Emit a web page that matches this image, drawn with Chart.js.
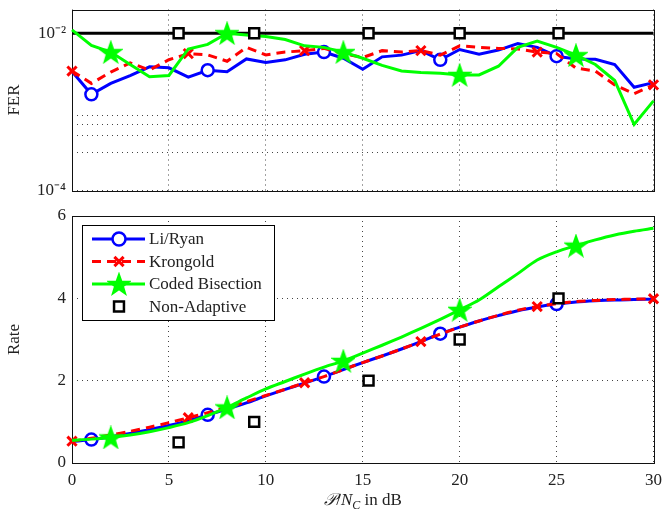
<!DOCTYPE html>
<html lang="en">
<head>
<meta charset="UTF-8">
<title>FER and Rate vs P/Nc</title>
<script src="https://cdn.jsdelivr.net/npm/chart.js"></script>
<style>
  body { margin: 0; background: #fff; }
  #wrap { position: relative; width: 663px; height: 512px; font-family: "Liberation Serif", serif; color: #222; }
  #ferChart { position: absolute; left: 0; top: 0; }
  #rateChart { position: absolute; left: 0; top: 205px; }
  #xTitle { position: absolute; left: 72px; width: 582px; top: 490px; text-align: center; font-size: 17px; line-height: 20px; }
  #xTitle sub { font-size: 12px; line-height: 0; }
</style>
</head>
<body>
<div id="wrap">
  <canvas id="ferChart" width="663" height="200"></canvas>
  <canvas id="rateChart" width="663" height="307"></canvas>
  <div id="xTitle"><i>𝒫</i>/<i>N</i><sub><i>C</i></sub> in dB</div>
</div>

<script>
// x values (P/Nc in dB)
const snr = [0,1,2,3,4,5,6,7,8,9,10,11,12,13,14,15,16,17,18,19,20,21,22,23,24,25,26,27,28,29,30];

// frame error rate
const ferLiRyan = [3.26e-3,1.67e-3,2.30e-3,2.89e-3,3.73e-3,3.63e-3,2.76e-3,3.38e-3,3.23e-3,4.71e-3,4.25e-3,
  4.58e-3,5.4e-3,5.75e-3,4.8e-3,3.47e-3,5.0e-3,5.26e-3,6.0e-3,4.58e-3,6.2e-3,
  5.4e-3,6.1e-3,7.4e-3,6.6e-3,5.1e-3,4.7e-3,4.67e-3,4.0e-3,2.05e-3,2.35e-3];
const ferKrongold = [3.3e-3,2.3e-3,3.2e-3,4.2e-3,3.4e-3,4.6e-3,5.5e-3,5.3e-3,4.4e-3,6.6e-3,5.3e-3,
  5.75e-3,6.0e-3,6.4e-3,5.5e-3,4.9e-3,6.0e-3,5.75e-3,6.0e-3,5.26e-3,6.9e-3,
  6.6e-3,6.4e-3,6.3e-3,5.75e-3,5.5e-3,3.6e-3,3.3e-3,2.2e-3,1.7e-3,2.2e-3];
const ferBisection = [1.1e-2,7.0e-3,5.75e-3,4.0e-3,2.8e-3,2.9e-3,6.3e-3,7.2e-3,1.0e-2,9.5e-3,9.1e-3,
  8.3e-3,6.9e-3,6.6e-3,5.75e-3,4.8e-3,3.9e-3,3.3e-3,3.16e-3,3.1e-3,2.95e-3,
  2.95e-3,3.8e-3,6.6e-3,7.95e-3,6.6e-3,5.26e-3,4.0e-3,2.5e-3,6.9e-4,1.38e-3];
const targetFer = 0.01;

// rate
const rateLiRyan = [0.52,0.57,0.64,0.72,0.81,0.91,1.03,1.17,1.31,1.46,1.63,1.79,1.94,2.1,2.27,2.44,
  2.6,2.77,2.95,3.14,3.3,3.45,3.58,3.7,3.79,3.86,3.91,3.94,3.96,3.97,3.98];
const rateKrongold = [0.53,0.6,0.68,0.77,0.87,0.98,1.1,1.22,1.35,1.49,1.64,1.79,1.95,2.1,2.27,2.44,
  2.6,2.77,2.95,3.13,3.3,3.45,3.59,3.71,3.8,3.87,3.92,3.95,3.97,3.98,3.99];
const rateBisection = [0.55,0.58,0.62,0.68,0.76,0.86,0.98,1.15,1.35,1.58,1.8,1.98,2.16,2.33,2.48,2.67,
  2.86,3.06,3.27,3.49,3.72,3.96,4.28,4.6,4.93,5.13,5.28,5.42,5.54,5.63,5.7];

// non-adaptive points
const nonAdaptiveSnr = [5.5, 9.4, 15.3, 20, 25.1];
const nonAdaptiveFer = [0.01, 0.01, 0.01, 0.01, 0.01];
const nonAdaptiveRate = [0.5, 1, 2, 3, 4];

// where markers sit on each curve
const markLiRyan = [1, 7, 13, 19, 25];
const markKrongold = [0, 6, 12, 18, 24, 30];
const markBisection = [2, 8, 14, 20, 26];

const legendLabels = ['Li/Ryan', 'Krongold', 'Coded Bisection', 'Non-Adaptive'];
const xTicks = [0, 5, 10, 15, 20, 25, 30];
const rateTicks = [0, 2, 4, 6];
const ferLabelled = [1e-4, 1e-2];
const ferGrid = [1e-4,2e-4,3e-4,4e-4,5e-4,6e-4,7e-4,8e-4,9e-4,1e-3,1e-2];

const FONT = 'Liberation Serif';
const BLUE = '#0000ff', RED = '#ff0000', GREEN = '#00ff00', BLACK = '#000000';

function pentagram(color) {
  const c = document.createElement('canvas');
  c.width = c.height = 24;
  const g = c.getContext('2d');
  const R = 10.5, r = R * 0.4;
  g.beginPath();
  for (let i = 0; i < 10; i++) {
    const a = -Math.PI / 2 + i * Math.PI / 5;
    const rr = i % 2 ? r : R;
    g.lineTo(12 + rr * Math.cos(a), 13 + rr * Math.sin(a));
  }
  g.closePath();
  g.fillStyle = color;
  g.fill();
  g.strokeStyle = color;
  g.lineWidth = 2;
  g.lineJoin = 'miter';
  g.stroke();
  return c;
}
const starImg = pentagram(GREEN);

const toXY = (xs, ys) => xs.map((x, i) => ({ x: x, y: ys[i] }));
const markAt = (list, r) => ctx => (ctx.raw && list.includes(ctx.raw.x)) ? r : 0;

function series(kind, values, extra) {
  const base = {
    liryan: { label: legendLabels[0], borderColor: BLUE, pointStyle: 'circle', pointRadius: markAt(markLiRyan, 6),
              pointBorderColor: BLUE, pointBackgroundColor: '#fff', pointBorderWidth: 2.5, order: 4 },
    krongold: { label: legendLabels[1], borderColor: RED, borderDash: [9, 6], pointStyle: 'crossRot',
              pointRadius: markAt(markKrongold, 6.5), pointBorderColor: RED, pointBorderWidth: 3, order: 3 },
    bisection: { label: legendLabels[2], borderColor: GREEN, pointStyle: starImg, pointRadius: markAt(markBisection, 10),
              pointBorderColor: GREEN, order: 2 }
  }[kind];
  return Object.assign({ data: toXY(snr, values), borderWidth: 3, fill: false, clip: false }, base, extra);
}

function nonAdaptive(values) {
  return {
    label: legendLabels[3], data: toXY(nonAdaptiveSnr, values), showLine: false,
    pointStyle: 'rect', pointRadius: 7, pointBorderColor: BLACK, pointBackgroundColor: '#fff',
    pointBorderWidth: 2.5, order: 0, clip: false
  };
}

// scales should not push the plot area in for half-height tick labels
const noPad = s => { s.paddingTop = 0; s.paddingBottom = 0; s.paddingLeft = 0; s.paddingRight = 0; };

const frame = {
  id: 'frame',
  beforeDatasetsDraw(chart) {
    const { ctx, chartArea: a } = chart;
    ctx.save();
    ctx.strokeStyle = '#111';
    ctx.lineWidth = 1;
    ctx.strokeRect(Math.round(a.left) + 0.5, Math.round(a.top) + 0.5, Math.round(a.right - a.left), Math.round(a.bottom - a.top));
    ctx.restore();
  }
};

const boxLegend = {
  id: 'boxLegend',
  afterDraw(chart) {
    const { ctx, chartArea: a } = chart;
    const x0 = Math.round(a.left) + 10, y0 = Math.round(a.top) + 9, w = 192, h = 95;
    ctx.save();
    ctx.fillStyle = '#fff';
    ctx.fillRect(x0, y0, w, h);
    ctx.strokeStyle = '#000';
    ctx.lineWidth = 1;
    ctx.strokeRect(x0 + 0.5, y0 + 0.5, w, h);
    ctx.font = '17px "' + FONT + '"';
    ctx.textBaseline = 'middle';
    legendLabels.forEach((name, i) => {
      const ds = chart.data.datasets.find(d => d.label === name);
      const y = y0 + 14 + i * 22.5;
      if (ds.showLine !== false) {
        ctx.save();
        ctx.strokeStyle = ds.borderColor;
        ctx.lineWidth = ds.borderWidth;
        ctx.setLineDash(ds.borderDash || []);
        ctx.beginPath();
        ctx.moveTo(x0 + 10, y);
        ctx.lineTo(x0 + 63, y);
        ctx.stroke();
        ctx.restore();
      }
      ctx.save();
      ctx.strokeStyle = ds.pointBorderColor;
      ctx.fillStyle = ds.pointBackgroundColor || '#fff';
      ctx.lineWidth = ds.pointBorderWidth || 1;
      const r = typeof ds.pointRadius === 'function' ? (ds.pointStyle === starImg ? 10 : 6.5) : ds.pointRadius;
      Chart.helpers.drawPoint(ctx, { pointStyle: ds.pointStyle, radius: r, borderWidth: ctx.lineWidth, rotation: 0 }, x0 + 37, y);
      ctx.restore();
      ctx.fillStyle = '#222';
      ctx.fillText(name, x0 + 67, y + 1);
    });
    ctx.restore();
  }
};

function xAxis(showTicks, height) {
  return {
    type: 'linear', min: 0, max: 30,
    afterBuildTicks: s => { s.ticks = xTicks.map(v => ({ value: v })); },
    afterFit: s => { s.height = height; noPad(s); },
    grid: { color: '#444', lineWidth: 1, drawTicks: false },
    border: { display: false, dash: [1, 4] },
    ticks: { display: showTicks, padding: 7, color: '#222', font: { family: FONT, size: 17 } }
  };
}

const commonOpts = {
  responsive: false,
  animation: false,
  events: [],
  plugins: { legend: { display: false }, tooltip: { enabled: false } }
};

new Chart(document.getElementById('ferChart'), {
  type: 'line',
  data: {
    datasets: [
      nonAdaptive(nonAdaptiveFer),
      { label: 'target', data: toXY([snr[0], snr[snr.length - 1]], [targetFer, targetFer]), borderColor: BLACK,
        borderWidth: 3, pointRadius: 0, order: 5, clip: false },
      series('bisection', ferBisection),
      series('krongold', ferKrongold),
      series('liryan', ferLiRyan)
    ]
  },
  options: Object.assign({}, commonOpts, {
    layout: { padding: { top: 5, right: 9, bottom: 3, left: 0 } },
    scales: {
      x: xAxis(false, 0),
      y: {
        type: 'logarithmic', min: 1e-4, max: 0.02,
        afterBuildTicks: s => { s.ticks = ferGrid.map(v => ({ value: v })); },
        afterFit: s => { s.width = 72; noPad(s); },
        grid: { color: '#444', lineWidth: 1, drawTicks: false },
        border: { display: false, dash: [1, 4] },
        ticks: {
          padding: 6, color: '#222', font: { family: FONT, size: 17 },
          callback: v => v === ferLabelled[1] ? '10\u207B\u00B2' : (v === ferLabelled[0] ? '10\u207B\u2074' : '')
        },
        title: { display: true, text: 'FER', color: '#222', font: { family: FONT, size: 17 }, padding: { top: 4, bottom: 4 } }
      }
    }
  }),
  plugins: [frame]
});

new Chart(document.getElementById('rateChart'), {
  type: 'line',
  data: {
    datasets: [
      series('liryan', rateLiRyan, { tension: 0.3 }),
      series('krongold', rateKrongold, { tension: 0.3 }),
      series('bisection', rateBisection, { tension: 0.3 }),
      nonAdaptive(nonAdaptiveRate)
    ]
  },
  options: Object.assign({}, commonOpts, {
    layout: { padding: { top: 11, right: 9, bottom: 0, left: 0 } },
    scales: {
      x: xAxis(true, 49),
      y: {
        type: 'linear', min: 0, max: 6,
        afterBuildTicks: s => { s.ticks = rateTicks.map(v => ({ value: v })); },
        afterFit: s => { s.width = 72; noPad(s); },
        grid: { color: '#444', lineWidth: 1, drawTicks: false },
        border: { display: false, dash: [1, 4] },
        ticks: { padding: 6, color: '#222', font: { family: FONT, size: 17 } },
        title: { display: true, text: 'Rate', color: '#222', font: { family: FONT, size: 17 }, padding: { top: 4, bottom: 4 } }
      }
    }
  }),
  plugins: [frame, boxLegend]
});
</script>
</body>
</html>
